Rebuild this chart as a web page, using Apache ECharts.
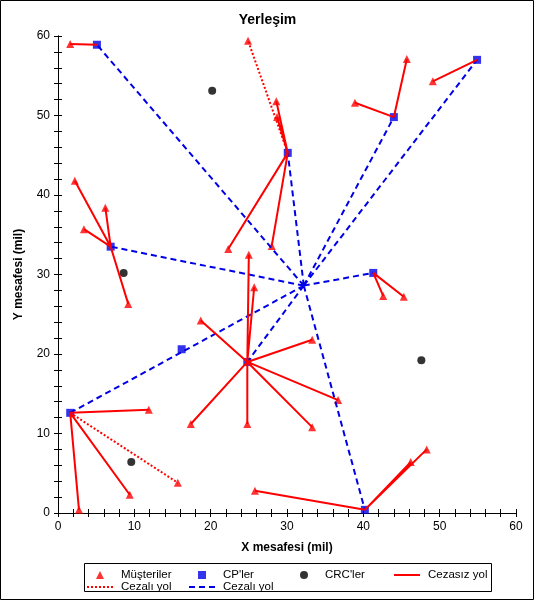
<!DOCTYPE html>
<html>
<head>
<meta charset="utf-8">
<script src="https://cdn.jsdelivr.net/npm/echarts@6/dist/echarts.min.js"></script>
<style>
html,body{margin:0;padding:0;background:#fff;}
#chart{width:535px;height:601px;}
</style>
</head>
<body>
<div id="chart"></div>
<script>
// ---- data ----
const customers = [
  [1.6,59.0],[28.6,51.8],[28.7,49.8],[22.3,33.2],[28.0,33.6],[24.9,59.4],
  [38.9,51.6],[45.7,57.1],[49.1,54.3],[2.2,41.8],[3.4,35.7],[6.2,38.4],
  [9.2,26.3],[42.6,27.3],[45.3,27.2],[18.7,24.2],[25.0,32.5],[25.7,28.4],
  [33.3,21.8],[36.7,14.2],[33.3,10.8],[24.8,11.2],[17.4,11.2],[11.9,13.0],
  [9.4,2.3],[2.75,0.4],[15.7,3.8],[25.8,2.8],[46.2,6.4],[48.3,8.0]
];
const cps = [
  [5.1,58.9],[30.1,45.3],[44.0,49.8],[54.9,57.0],[6.9,33.5],
  [41.3,30.2],[16.2,20.6],[1.6,12.6],[24.8,19.0],[40.2,0.4]
];
const crcs = [[20.2,53.1],[8.6,30.2],[47.6,19.2],[9.6,6.4]];
const hub = [32.2,28.6];
// [cp index, customer index]
const freeLinks = [
  [0,0],[1,1],[1,2],[1,3],[1,4],[2,6],[2,7],[3,8],[4,9],[4,10],[4,11],[4,12],
  [5,13],[5,14],[8,15],[8,16],[8,17],[8,18],[8,19],[8,20],[8,21],[8,22],
  [7,23],[7,24],[7,25],[9,27],[9,28],[9,29]
];
const penaltyCustLinks = [[1,5],[7,26]];
const hubLinks = [0,1,2,3,4,5,7,8,9];
const xTicks = {min:0,max:60,interval:10};
const yTicks = {min:0,max:60,interval:10};

// ---- build segment lists ----
const GAP = ['-','-'];
function segs(pairs){
  const out=[];
  pairs.forEach(p=>{out.push(p[0],p[1],GAP);});
  return out;
}
const freeData = segs(freeLinks.map(l=>[cps[l[0]],customers[l[1]]]));
const dotData = segs(penaltyCustLinks.map(l=>[cps[l[0]],customers[l[1]]]));
const dashData = segs(hubLinks.map(i=>[hub,cps[i]]));

const FONT = 'Liberation Sans, Arial, sans-serif';
const RED = '#FF0000', BLUE = '#0000E6';
const blk = {color:'#000',width:1};

function axisCommon(t){
  return {type:'value',min:t.min,max:t.max,interval:t.interval,
    splitLine:{show:false},
    minorTick:{show:true,splitNumber:5,length:4,lineStyle:blk},
    axisTick:{length:4,lineStyle:blk},
    axisLine:{lineStyle:blk}};
}
const xMain = Object.assign(axisCommon(xTicks),{position:'bottom',
  axisLabel:{color:'#000',fontSize:12,fontFamily:FONT,margin:8},
  name:'X mesafesi (mil)',nameLocation:'middle',nameGap:29,
  nameTextStyle:{color:'#000',fontWeight:'bold',fontSize:12,fontFamily:FONT}});
const xInner = Object.assign(axisCommon(xTicks),{position:'bottom',
  axisLabel:{show:false},axisLine:{show:false},
  axisTick:{inside:true,length:4,lineStyle:blk}});
const xTop = Object.assign(axisCommon(xTicks),{position:'top',
  axisLabel:{show:false},axisTick:{inside:true,length:4,lineStyle:blk}});
const yMain = Object.assign(axisCommon(yTicks),{position:'left',
  axisLabel:{color:'#000',fontSize:12,fontFamily:FONT,margin:8},
  name:'Y mesafesi (mil)',nameLocation:'middle',nameGap:33,
  nameTextStyle:{color:'#000',fontWeight:'bold',fontSize:12,fontFamily:FONT}});
const yInner = Object.assign(axisCommon(yTicks),{position:'left',
  axisLabel:{show:false},axisLine:{show:false},
  axisTick:{inside:true,length:4,lineStyle:blk}});
const yRight = Object.assign(axisCommon(yTicks),{position:'right',
  axisLabel:{show:false},axisTick:{inside:true,length:4,lineStyle:blk}});

function lgSym(name,center,top){
  return {data:[name],left:center-4,top:top,itemWidth:8,itemHeight:8,itemGap:0,
    padding:0,selectedMode:false,
    textStyle:{color:'#000',fontSize:11.5,fontFamily:FONT,padding:[0,0,0,12]}};
}
function lgLine(name,left,top){
  return {data:[name],left:left,top:top,itemWidth:26,itemHeight:8,itemGap:0,
    padding:0,selectedMode:false,itemStyle:{opacity:0},
    textStyle:{color:'#000',fontSize:11.5,fontFamily:FONT,padding:[0,0,0,3]}};
}

const chart = echarts.init(document.getElementById('chart'),null,{renderer:'canvas'});
chart.setOption({
  animation:false,
  backgroundColor:'#fff',
  title:{text:'Yerleşim',left:'center',top:8,
    textStyle:{color:'#000',fontWeight:'bold',fontSize:14,fontFamily:FONT}},
  grid:{left:58,right:19,top:36,bottom:88,containLabel:false},
  xAxis:[xMain,xInner,xTop],
  yAxis:[yMain,yInner,yRight],
  legend:[
    lgSym('Müşteriler',100,569),
    lgSym("CP'ler",202,569),
    lgSym("CRC'ler",304,569),
    lgLine('Cezasız yol',393,569),
    lgLine('Cezalı yol',86,581),
    lgLine('Cezalı yol ',188,581)
  ],
  graphic:[
    {type:'rect',shape:{x:0.5,y:0.5,width:533,height:599},
     style:{fill:'none',stroke:'#000',lineWidth:1},silent:true},
    {type:'rect',shape:{x:84.5,y:563.5,width:407,height:28},
     style:{fill:'none',stroke:'#000',lineWidth:1},silent:true,z:-1}
  ],
  series:[
    {name:'Cezalı yol ',type:'line',data:dashData,symbol:'none',connectNulls:false,
     color:BLUE,lineStyle:{color:BLUE,width:2,type:[6,4]}},
    {name:"CP'ler",type:'scatter',data:cps,symbol:'rect',symbolSize:8,
     color:BLUE,itemStyle:{color:BLUE}},
    {name:'Cezalı yol',type:'line',data:dotData,symbol:'none',connectNulls:false,
     color:RED,lineStyle:{color:RED,width:2,type:[2,2]}},
    {name:'Cezasız yol',type:'line',data:freeData,symbol:'none',connectNulls:false,
     color:RED,lineStyle:{color:RED,width:2,type:'solid'}},
    {name:"CRC'ler",type:'scatter',data:crcs,symbol:'circle',symbolSize:8,
     color:'#000',itemStyle:{color:'#000'}},
    {name:'Müşteriler',type:'scatter',data:customers,symbol:'triangle',symbolSize:8,
     color:RED,itemStyle:{color:RED}}
  ]
});
</script>
</body>
</html>
